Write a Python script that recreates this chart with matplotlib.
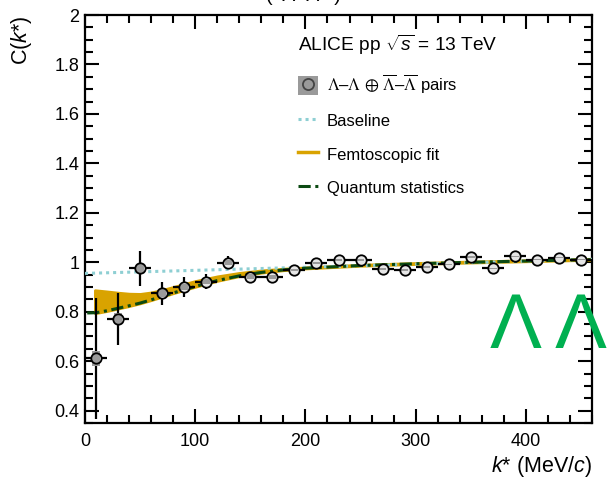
import matplotlib
matplotlib.use("Agg")
import matplotlib.pyplot as plt
from matplotlib.patches import Rectangle, Patch
from matplotlib.lines import Line2D
from matplotlib.ticker import MultipleLocator

plt.rcParams['font.family'] = ['Liberation Sans', 'DejaVu Sans']
plt.rcParams['mathtext.fontset'] = 'custom'
plt.rcParams['mathtext.rm'] = 'Liberation Sans'
plt.rcParams['mathtext.it'] = 'Liberation Sans:italic'

# ---- data ----
k_data = [10, 30, 50, 70, 90, 110, 130, 150, 170, 190, 210, 230, 250, 270,
          290, 310, 330, 350, 370, 390, 410, 430, 450]
c_data = [0.611, 0.771, 0.975, 0.875, 0.901, 0.921, 0.999, 0.941, 0.939, 0.968,
          0.997, 1.011, 1.011, 0.972, 0.968, 0.981, 0.992, 1.021, 0.975, 1.024,
          1.011, 1.019, 1.011]
c_stat = [0.245, 0.105, 0.072, 0.047, 0.040, 0.030, 0.025, 0.020, 0.018, 0.015,
          0.013, 0.012, 0.012, 0.011, 0.011, 0.010, 0.010, 0.010, 0.010, 0.010,
          0.010, 0.010, 0.010]
c_sys = [0.030, 0.022, 0.020, 0.015, 0.012, 0.010, 0.010, 0.010, 0.008, 0.005,
         0.004, 0.004, 0.004, 0.003, 0.003, 0.003, 0.003, 0.003, 0.003, 0.003,
         0.003, 0.003, 0.003]
k_binhalf = 10

baseline_k = [0, 460]
baseline_c = [0.955, 1.012]

fit_k = [9, 20, 30, 40, 50, 60, 70, 80, 90, 100, 120, 140, 160, 180, 200,
         250, 300, 350, 400, 460]
fit_hi = [0.887, 0.882, 0.877, 0.873, 0.872, 0.878, 0.888, 0.900, 0.912, 0.924,
          0.943, 0.957, 0.967, 0.974, 0.979, 0.990, 0.997, 1.003, 1.008, 1.014]
fit_lo = [0.794, 0.803, 0.813, 0.823, 0.834, 0.847, 0.861, 0.875, 0.888, 0.901,
          0.925, 0.944, 0.958, 0.968, 0.975, 0.986, 0.993, 0.999, 1.004, 1.010]

qs_k = [2, 10, 20, 30, 40, 50, 60, 70, 80, 90, 100, 120, 140, 160, 180, 200,
        250, 300, 350, 400, 460]
qs_c = [0.795, 0.796, 0.804, 0.814, 0.824, 0.835, 0.848, 0.862, 0.876, 0.889,
        0.902, 0.926, 0.945, 0.959, 0.969, 0.976, 0.987, 0.994, 1.000, 1.005, 1.011]

x_ticks = [0, 100, 200, 300, 400]
y_ticks = [0.4, 0.6, 0.8, 1.0, 1.2, 1.4, 1.6, 1.8, 2.0]
y_ticklabels = ['0.4', '0.6', '0.8', '1', '1.2', '1.4', '1.6', '1.8', '2']

labels = [r'$\Lambda$–$\Lambda$ $\oplus$ $\overline{\Lambda}$–$\overline{\Lambda}$ pairs',
          'Baseline', 'Femtoscopic fit', 'Quantum statistics']

# ---- colours ----
col_base = '#8ecfd3'
col_fit = '#d9a300'
col_qs = '#0b4a12'
col_sys = '#9a9a9a'

fig = plt.figure(figsize=(6.09, 4.83), dpi=100)
ax = fig.add_axes([85/609, 1-423/483, 507/609, 408/483])

ax.fill_between(fit_k, fit_lo, fit_hi, color=col_fit, lw=2.0, ec=col_fit, zorder=2)
ax.plot(baseline_k, baseline_c, color=col_base, lw=2.2, ls=(0, (1, 1.3)), zorder=3)
ax.plot(qs_k, qs_c, color=col_qs, lw=2.2, ls=(0, (4, 1.5, 1, 1.5)), zorder=4)

ax.errorbar(k_data, c_data, yerr=c_stat, xerr=k_binhalf, fmt='none', ecolor='black',
            elinewidth=1.6, capsize=0, zorder=5)
ax.plot(k_data, c_data, 'o', ms=7.5, mfc='#e6e6e6', mec='none', zorder=6)
for k, c, s in zip(k_data, c_data, c_sys):
    ax.add_patch(Rectangle((k - 3.4, c - s), 6.8, 2 * s, fc=col_sys, ec='none', zorder=7))
ax.plot(k_data, c_data, 'o', ms=7.5, mfc='none', mec='black', mew=1.3, zorder=8)

ax.set_xlim(0, 460)
ax.set_ylim(0.35, 2.0)
ax.set_xticks(x_ticks)
ax.set_yticks(y_ticks)
ax.set_yticklabels(y_ticklabels)
ax.xaxis.set_minor_locator(MultipleLocator(20))
ax.yaxis.set_minor_locator(MultipleLocator(0.05))
ax.tick_params(which='both', direction='in', top=True, right=True, width=1.5,
               labelsize=13)
ax.tick_params(which='major', length=10)
ax.tick_params(which='minor', length=6)
ax.tick_params(axis='x', pad=7)
ax.tick_params(axis='y', pad=4)
for sp in ax.spines.values():
    sp.set_linewidth(1.6)

ax.set_xlabel(r'$k$* (MeV/$c$)', fontsize=15.5, loc='right')
ax.xaxis.set_label_coords(1.0, -0.075)
ax.set_ylabel(r'C($k$*)', fontsize=15.5, loc='top')
ax.yaxis.set_label_coords(-0.1, 1.0)

fig.text(298/609, 1 - 45/483, r'ALICE pp $\sqrt{s}$ = 13 TeV', fontsize=13.8, va='center')

handles = [
    (Patch(fc=col_sys, ec='none'),
     Line2D([], [], marker='o', ls='none', ms=8, mfc=col_sys, mec='#444444', mew=1.3)),
    Line2D([], [], color=col_base, lw=2.2, ls=(0, (1, 1.3))),
    Line2D([], [], color=col_fit, lw=2.5),
    Line2D([], [], color=col_qs, lw=2.2, ls=(0, (4, 1.5, 1, 1.5))),
]
leg = ax.legend(handles, labels, loc='upper left', bbox_to_anchor=(298/609, 1 - 73/483),
                bbox_transform=fig.transFigure, frameon=False, fontsize=12,
                handlelength=1.2, handleheight=1.3, handletextpad=0.54,
                labelspacing=0.92, borderpad=0, borderaxespad=0)
leg.get_texts()[0].set_math_fontfamily('stix')

fig.text(490/609, 1 - 348/483, 'Λ Λ', fontsize=56, color='#00b050',
         va='baseline', ha='left', family='Liberation Sans')
fig.text(303/609, 1 - 1/483, '(  Λ–Λ   )', fontsize=14, va='baseline', ha='center')

fig.savefig('out.png', dpi=100)
